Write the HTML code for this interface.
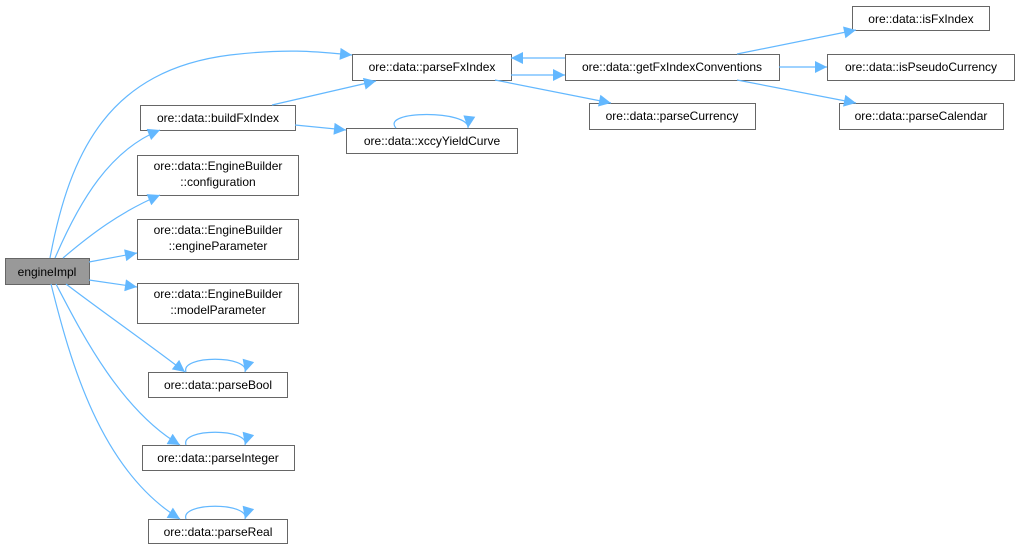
<!DOCTYPE html>
<html><head><style>
html,body{margin:0;padding:0;background:#fff;}
svg{display:block;}
text{font-family:"Liberation Sans",Arial,sans-serif;font-size:12px;fill:#000;}
</style></head><body>
<svg width="1020" height="549" xmlns="http://www.w3.org/2000/svg">
<defs>
<marker id="a" viewBox="0 0 10 10" refX="10" refY="5" markerWidth="13" markerHeight="12" markerUnits="userSpaceOnUse" orient="auto">
<path d="M0,0 L10,5 L0,10 z" fill="#63b8ff"/>
</marker>
</defs>
<g stroke="#666" stroke-width="1" fill="#fff">
<rect x="5.5" y="258.5" width="84" height="26" fill="#999"/>
<rect x="352.5" y="54.5" width="159" height="26"/>
<rect x="140.5" y="105.5" width="155" height="25"/>
<rect x="346.5" y="128.5" width="171" height="25"/>
<rect x="137.5" y="155.5" width="161" height="40"/>
<rect x="137.5" y="219.5" width="161" height="40"/>
<rect x="137.5" y="283.5" width="161" height="40"/>
<rect x="148.5" y="372.5" width="139" height="25"/>
<rect x="142.5" y="445.5" width="152" height="25"/>
<rect x="148.5" y="519.5" width="139" height="24"/>
<rect x="565.5" y="54.5" width="214" height="26"/>
<rect x="852.5" y="6.5" width="137" height="24"/>
<rect x="827.5" y="54.5" width="187" height="26"/>
<rect x="839.5" y="103.5" width="164" height="26"/>
<rect x="589.5" y="103.5" width="166" height="26"/>
</g>
<g fill="none" stroke="#63b8ff" stroke-width="1.2" marker-end="url(#a)">
<path d="M50,258 C70,150 110,70 230,55 C290,48 320,52 352,55"/>
<path d="M55,258 C80,200 110,150 160,130"/>
<path d="M63,258 C90,235 120,212 160,195"/>
<path d="M89,262 L137,253"/>
<path d="M89,280 L137,287"/>
<path d="M66,284 C100,310 150,345 185,372"/>
<path d="M56,284 C80,330 120,410 180,445"/>
<path d="M51,284 C70,360 100,470 180,519"/>
<path d="M272,105 L376,81"/>
<path d="M295,125 L346,130"/>
<path d="M396,128 C380,110 470,110 468,128"/>
<path d="M186,372 C180,355 250,355 245,372"/>
<path d="M186,445 C180,428 250,428 245,445"/>
<path d="M186,519 C180,502 250,502 245,519"/>
<path d="M511,75 L565,75"/>
<path d="M565,58 L511,58"/>
<path d="M495,80 L611,103"/>
<path d="M737,54 L856,30"/>
<path d="M779,67 L827,67"/>
<path d="M737,80 L856,103"/>
</g>
<g text-anchor="middle">
<text x="47" y="276">engineImpl</text>
<text x="432" y="71">ore::data::parseFxIndex</text>
<text x="218" y="122">ore::data::buildFxIndex</text>
<text x="432" y="145">ore::data::xccyYieldCurve</text>
<text x="218" y="170">ore::data::EngineBuilder</text>
<text x="218" y="186">::configuration</text>
<text x="218" y="234">ore::data::EngineBuilder</text>
<text x="218" y="250">::engineParameter</text>
<text x="218" y="298">ore::data::EngineBuilder</text>
<text x="218" y="314">::modelParameter</text>
<text x="218" y="389">ore::data::parseBool</text>
<text x="218" y="462">ore::data::parseInteger</text>
<text x="218" y="536">ore::data::parseReal</text>
<text x="672" y="71">ore::data::getFxIndexConventions</text>
<text x="921" y="23">ore::data::isFxIndex</text>
<text x="921" y="71">ore::data::isPseudoCurrency</text>
<text x="921" y="120">ore::data::parseCalendar</text>
<text x="672" y="120">ore::data::parseCurrency</text>
</g>
</svg>
</body></html>
